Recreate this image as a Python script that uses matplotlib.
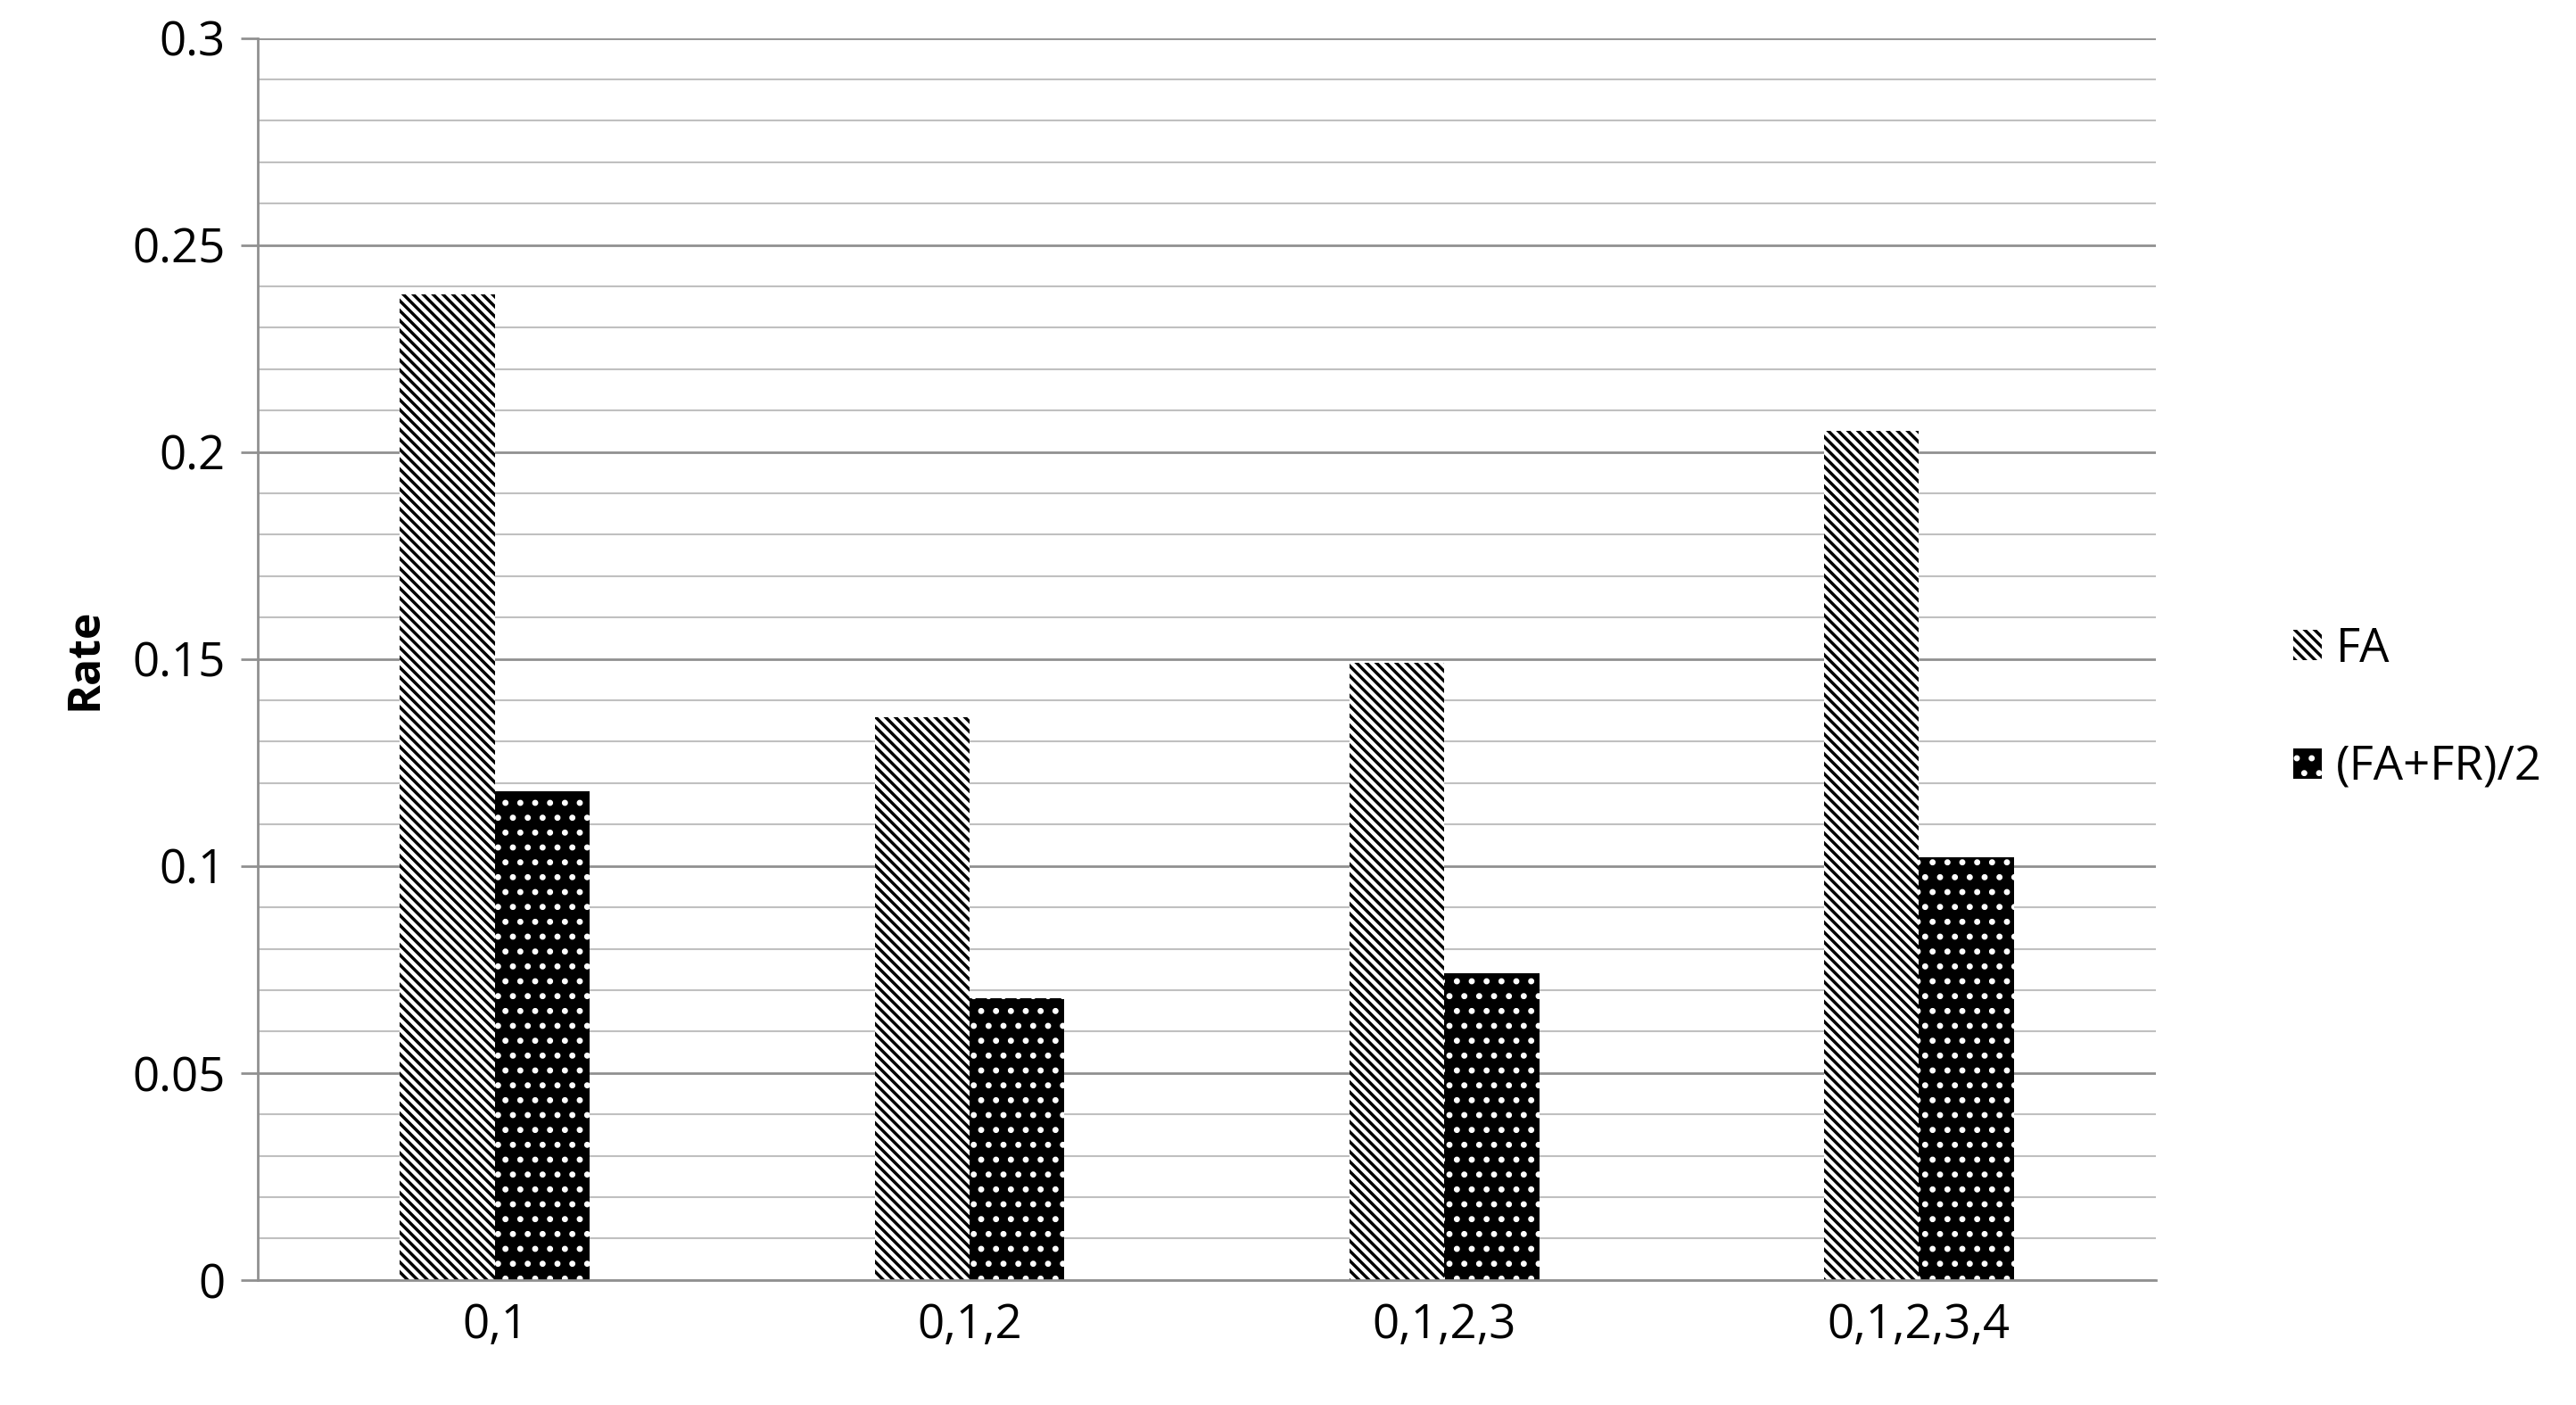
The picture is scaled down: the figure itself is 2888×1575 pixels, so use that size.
import numpy as np
import matplotlib.pyplot as plt
from matplotlib.ticker import MultipleLocator

plt.rcParams['font.family'] = ['Open Sans', 'DejaVu Sans']
plt.rcParams['hatch.linewidth'] = 2.5

categories = ["0,1", "0,1,2", "0,1,2,3", "0,1,2,3,4"]
fa = [0.238, 0.136, 0.149, 0.205]
fa_fr = [0.118, 0.068, 0.074, 0.102]

fig = plt.figure(figsize=(28.88, 15.75), dpi=100)
ax = fig.add_axes([0.100, 0.089, 0.737, 0.884])

x = np.arange(len(categories))
w = 0.2
ax.bar(x - w / 2, fa, w, color="white", edgecolor="black", hatch="\\\\\\", linewidth=0, label="FA")
ax.bar(x + w / 2, fa_fr, w, color="black", edgecolor="white", hatch=".", linewidth=0, label="(FA+FR)/2")

ax.set_xlim(-0.5, 3.5)
ax.set_ylim(0, 0.3)
ax.yaxis.set_major_locator(MultipleLocator(0.05))
ax.yaxis.set_minor_locator(MultipleLocator(0.01))
ax.set_yticks([0, 0.05, 0.1, 0.15, 0.2, 0.25, 0.3])
ax.set_yticklabels(["0", "0.05", "0.1", "0.15", "0.2", "0.25", "0.3"])
ax.grid(axis="y", which="major", color="#909090", linewidth=2)
ax.grid(axis="y", which="minor", color="#c0c0c0", linewidth=1.5)
ax.set_axisbelow(True)
ax.set_xticks(x)
ax.set_xticklabels(categories)
ax.tick_params(axis="both", which="both", length=0, labelsize=38, pad=18)
ax.tick_params(axis="y", which="major", length=14, color="#909090", width=2, direction="out", pad=12)
for s in ["top", "right"]:
    ax.spines[s].set_visible(False)
ax.spines["left"].set_color("#909090")
ax.spines["bottom"].set_color("#909090")
ax.spines["left"].set_linewidth(2)
ax.spines["bottom"].set_linewidth(2)
ax.set_ylabel("Rate", fontsize=36, fontweight="bold", labelpad=20)

ax.legend(loc="center left", bbox_to_anchor=(1.05, 0.46), frameon=False, fontsize=38,
          handlelength=0.6, handleheight=0.6, labelspacing=1.5, handletextpad=0.3)

fig.savefig("out.png", dpi=100)
